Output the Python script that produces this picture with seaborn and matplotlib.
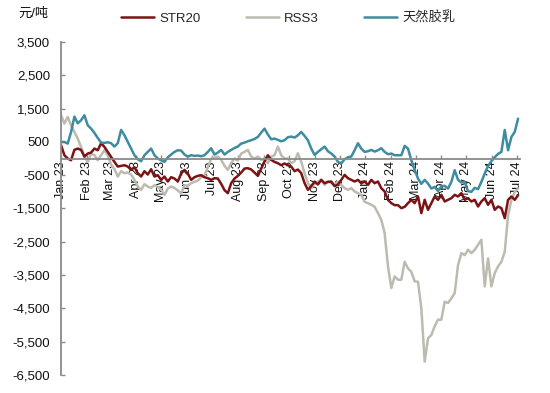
import matplotlib
matplotlib.use('Agg')
import matplotlib.pyplot as plt
import matplotlib.dates as mdates
from matplotlib.ticker import FuncFormatter
import seaborn as sns
import pandas as pd

# ---- data (元/吨), sampled every 4 days from 2023-01-01 ----
start_date = '2023-01-01'
step = '4D'

latex = [500, 500, 450, 800, 1260, 1060, 1150, 1300, 1000, 900,
         770, 620, 480, 470, 490, 460, 360, 460, 860, 700,
         500, 300, 100, -20, -80, 100, 200, 300, 100, 0,
         -50, -100, 40, 120, 200, 250, 240, 120, 60, 100,
         80, 90, 70, 100, 200, 310, 120, 180, 260, 120,
         200, 260, 320, 360, 450, 480, 520, 550, 590, 650,
         780, 900, 720, 580, 600, 560, 520, 550, 640, 660,
         630, 700, 800, 680, 550, 300, 110, 200, 280, 360,
         220, 150, 60, -100, -140, -20, 40, 60, 250, 460,
         300, 200, 220, 260, 210, 250, 310, 200, 130, 150,
         100, 100, 100, 380, 300, -50, -340, -600, -760, -640,
         -750, -900, -850, -980, -830, -820, -900, -700, -350, -640,
         -720, -700, -980, -1000, -880, -920, -700, -450, -220, -80,
         40, 140, 200, 860, 250, 650, 800, 1200]

str20 = [400, 100, 0, -50, 260, 300, 260, 60, 150, 180,
         300, 250, 460, 350, 200, 50, -100, -240, -220, -200,
         -240, -340, -260, -440, -540, -380, -480, -320, -540, -500,
         -640, -540, -690, -560, -600, -690, -450, -340, -450, -640,
         -560, -520, -500, -560, -590, -640, -590, -600, -760, -950,
         -1040, -740, -600, -520, -420, -300, -290, -330, -420, -520,
         -300, -80, 100, -40, -100, -140, -200, -150, -200, -240,
         -380, -330, -440, -740, -940, -830, -690, -780, -640, -740,
         -700, -690, -830, -780, -640, -490, -590, -640, -690, -640,
         -740, -690, -790, -640, -740, -690, -890, -990, -1240, -1340,
         -1400, -1400, -1490, -1450, -1340, -1240, -1340, -1140, -1640, -1240,
         -1540, -1340, -1140, -1240, -1090, -1290, -1240, -1190, -1090, -1140,
         -1040, -1240, -1190, -1290, -1240, -1440, -1290, -1190, -1390, -1240,
         -1540, -1440, -1490, -1790, -1240, -1140, -1240, -1100]

rss3 = [1310, 1050, 1250, 1000, 800, 600, 350, 50, -100, 150,
        100, -50, 100, 250, 100, -180, -320, -540, -380, -440,
        -420, -480, -640, -840, -940, -770, -840, -880, -800, -850,
        -940, -1090, -900, -840, -880, -960, -1040, -800, -820, -740,
        -700, -660, -560, -500, -260, 0, 30, 60, -40, -220,
        -340, -130, 0, -60, 150, 200, 260, 60, 0, 60,
        -40, 0, -140, 60, 100, 360, 100, 0, 0, -140,
        -80, 160, -100, -440, -740, -890, -740, -700, -640, -790,
        -690, -740, -790, -690, -790, -890, -940, -890, -990, -1040,
        -1100, -1300, -1340, -1390, -1450, -1640, -1840, -2240, -3240, -3890,
        -3540, -3640, -3640, -3100, -3300, -3400, -3690, -3700, -4500, -6100,
        -5400, -5300, -5040, -4840, -4840, -4300, -4340, -4200, -4040, -3200,
        -2840, -2900, -2740, -2840, -2740, -2590, -2440, -3840, -3000, -3840,
        -3440, -3240, -3100, -2800, -1700, -1240, -1000, -900]

series_names = ['STR20', 'RSS3', '天然胶乳']
y_ticks = list(range(-6500, 3501, 1000))
unit_label = '元/吨'

colors = {'STR20': '#7b1315', 'RSS3': '#bdbbb0', '天然胶乳': '#3e8c9f'}

sns.set_theme(style='white')
plt.rcParams['font.family'] = ['Liberation Sans', 'Noto Sans CJK SC']

dates = pd.date_range(start_date, periods=len(str20), freq=step)
wide = pd.DataFrame({'date': dates, 'STR20': str20, 'RSS3': rss3, '天然胶乳': latex})
df = wide.melt('date', var_name='series', value_name='value')

fig = plt.figure(figsize=(5.5, 3.93), dpi=100)
ax = fig.add_axes([0.111, 0.046, 0.834, 0.847])

for name in ['RSS3', 'STR20', '天然胶乳']:
    sns.lineplot(data=df[df['series'] == name], x='date', y='value',
                 color=colors[name], lw=1.8, ax=ax, label=name)

ax.set_ylim(-6500, 3500)
ax.set_xlim(pd.Timestamp('2023-01-01'), pd.Timestamp('2024-07-04'))
ax.set_yticks(y_ticks)
ax.yaxis.set_major_formatter(FuncFormatter(lambda v, p: f'{int(v):,}'))
ax.xaxis.set_major_locator(mdates.MonthLocator())
ax.xaxis.set_major_formatter(mdates.DateFormatter('%b %y'))
ax.set_xlabel('')
ax.set_ylabel('')

for s in ['top', 'right']:
    ax.spines[s].set_visible(False)
ax.spines['bottom'].set_position(('data', 0))
for s in ['left', 'bottom']:
    ax.spines[s].set_color('#8a8a8a')
    ax.spines[s].set_linewidth(1.3)

ax.tick_params(axis='y', direction='in', length=3, width=1, color='#8a8a8a',
               labelsize=9.5, pad=8, labelcolor='#111111', left=True)
ax.tick_params(axis='x', direction='in', length=3, width=1, color='#8a8a8a',
               labelsize=9, pad=2, labelcolor='#111111', labelrotation=90, bottom=True)
ax.grid(False)

handles, labels = ax.get_legend_handles_labels()
hmap = dict(zip(labels, handles))
ax.legend_.remove()
fig.legend([hmap[n] for n in series_names], series_names, loc='center',
           bbox_to_anchor=(0.524, 0.953), ncol=3, frameon=False,
           fontsize=9.5, handlelength=2.5, columnspacing=3.4, handletextpad=0.4)

fig.text(0.033, 0.965, unit_label, fontsize=9.5, ha='left', va='center', color='#111111')

fig.savefig('out.png', dpi=100)
